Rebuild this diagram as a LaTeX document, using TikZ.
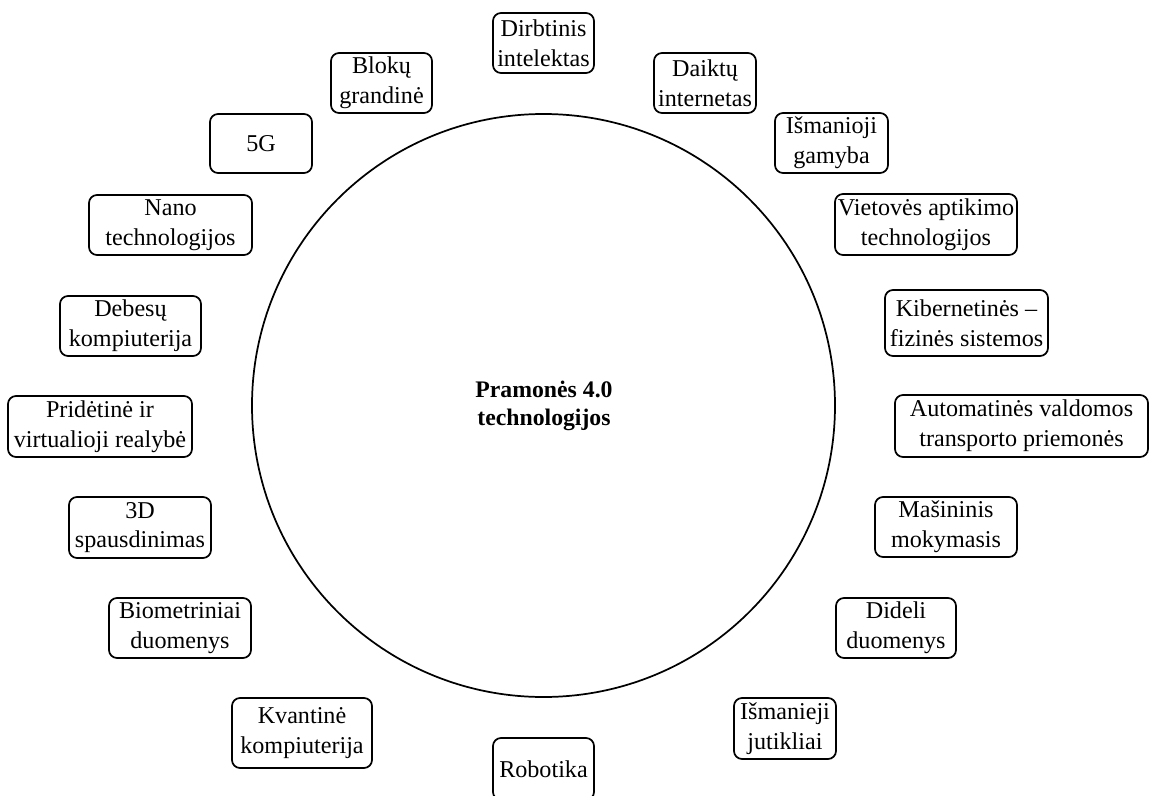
\documentclass[tikz,border=0pt]{standalone}
\usepackage{fontspec}
\setmainfont{Liberation Serif}
\begin{document}
\begin{tikzpicture}[x=0.75pt,y=-0.75pt,
  lbl/.style={font=\fontsize{18.1pt}{22.3pt}\selectfont},
  techbox/.style={draw, line width=1.3pt, rounded corners=6pt, align=center,
    inner sep=0pt, lbl},
  sz/.style 2 args={minimum width=#1*0.75pt, minimum height=#2*0.75pt},
  hub/.style={draw, circle, line width=1.3pt, minimum size=583*0.75pt, inner sep=0pt}]
\useasboundingbox (0,0) rectangle (1150,796);

% central circle and its title
\node[hub] (hub) at (543.5,405.5) {};
\node[align=center, font=\fontsize{17.8pt}{21.3pt}\selectfont\bfseries] (title) at (544,406)
  {Pramonės 4.0\\technologijos};

% technologies around the circle (centre, width, height in px)
\node[techbox, sz={101}{60}]  (ai)    at (543.5,43)   {Dirbtinis\\intelektas};
\node[techbox, sz={102}{60}]  (iot)   at (705,83)     {Daiktų\\internetas};
\node[techbox, sz={113}{60}]  (smf)   at (831.5,143)  {Išmanioji\\gamyba};
\node[techbox, sz={182}{61}]  (loc)   at (926,224.5)  {Vietovės aptikimo\\technologijos};
\node[techbox, sz={163}{66}]  (cps)   at (966.5,323)  {Kibernetinės –\\fizinės sistemos};
\node[techbox, sz={253}{62}]  (av)    at (1021.5,426) {Automatinės valdomos\\transporto priemonės};
\node[techbox, sz={142}{60}]  (ml)    at (946,527)    {Mašininis\\mokymasis};
\node[techbox, sz={120}{60}]  (bigd)  at (896,628)    {Dideli\\duomenys};
\node[techbox, sz={102}{61}]  (sens)  at (785,728.5)  {Išmanieji\\jutikliai};
\node[techbox, sz={101}{62}]  (rob)   at (543.5,769)  {Robotika};
\node[techbox, sz={140}{70}]  (qc)    at (302,733)    {Kvantinė\\kompiuterija};
\node[techbox, sz={142}{60}]  (bio)   at (180,628)    {Biometriniai\\duomenys};
\node[techbox, sz={142}{61}]  (print) at (140,527.5)  {3D\\spausdinimas};
\node[techbox, sz={184}{61}]  (xr)    at (100,426.5)  {Pridėtinė ir\\virtualioji realybė};
\node[techbox, sz={141}{60}]  (cloud) at (130.5,326)  {Debesų\\kompiuterija};
\node[techbox, sz={163}{60}]  (nano)  at (170.5,225)  {Nano\\technologijos};
\node[techbox, sz={102}{59}]  (fiveg) at (261,143.5)  {5G};
\node[techbox, sz={101}{60}]  (chain) at (381.5,83)   {Blokų\\grandinė};
\end{tikzpicture}
\end{document}
